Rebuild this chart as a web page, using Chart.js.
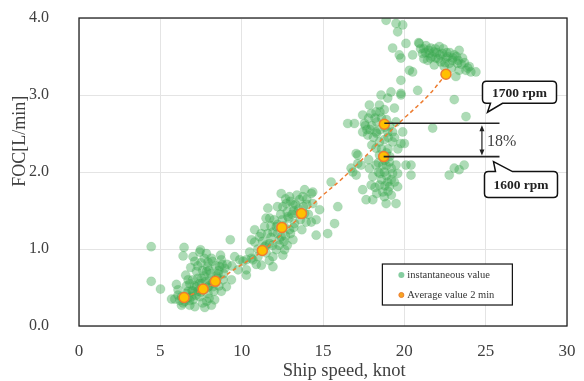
<!DOCTYPE html>
<html>
<head>
<meta charset="utf-8">
<script src="https://cdn.jsdelivr.net/npm/chart.js@4.4.0/dist/chart.umd.min.js"></script>
<style>
  html, body { margin: 0; padding: 0; background: #fff; }
  #wrap { width: 584px; height: 381px; }
</style>
</head>
<body>
<div id="wrap"><canvas id="chart" width="584" height="381"></canvas></div>
<script>
// instantaneous value (speed in knot, FOC in L/min)
const speedInst = [
  4.44, 4.44, 5.01, 5.69, 5.99, 6.46, 6.4, 7.01, 7.47, 9.3, 10.6, 6.87, 6.56, 6.71, 5.89, 6.3, 6.81, 7.73, 8.14, 8.34,
  9.06, 9.37, 9.78, 10.29, 9.57, 10.08, 10.6, 7.42, 7.83, 8.14, 8.75, 8.96, 7.12, 7.22, 7.83, 8.55, 7.93, 8.65, 7.01, 7.42,
  7.93, 8.75, 8.85, 6.09, 6.5, 7.01, 7.12, 6.71, 6.09, 7.53, 8.04, 7.53, 8.24, 7.22, 6.81,
  6.3, 6.6, 6.9, 6.2, 7.3, 7.7, 8.0, 8.3, 8.5, 8.1, 7.6, 7.3, 7.0, 8.6, 8.4, 7.9, 7.5, 8.9, 9.1, 8.3, 7.6, 6.6, 7.8, 8.7, 9.4,
  6.4, 6.8, 7.2, 7.5, 7.9, 8.2, 8.45, 8.0, 7.7, 7.4, 7.1, 6.95, 8.6, 8.8, 8.2, 7.7, 7.3, 8.0, 6.7, 7.85,
  9.88, 10.29, 10.8, 10.8, 10.49, 11.1, 11.41, 11.61, 11.72, 11.72, 11.92, 11.21, 12.13, 12.33, 12.43, 12.53, 12.74, 12.94, 12.84, 12.64,
  13.15, 12.94, 12.13, 13.25, 13.76, 13.87, 14.28, 14.37, 14.79, 14.58, 14.28, 14.58, 15.29, 15.71, 15.91, 15.5, 16.83, 17.14, 13.87, 13.97,
  13.35, 13.15, 13.56, 12.43, 11.92, 11.41, 11.0, 10.69, 10.29, 11.92, 12.53, 14.37,
  11.0, 11.5, 11.8, 12.2, 12.6, 12.9, 13.2, 13.5, 13.6, 13.2, 12.7, 12.3, 11.6, 12.0, 12.4, 13.0, 13.4, 14.0, 14.1, 11.3, 12.8, 11.7, 13.7, 10.9,
  11.5, 11.9, 12.2, 12.5, 12.8, 13.1, 13.3, 13.0, 12.6, 11.8, 12.2, 12.7, 13.8, 14.0, 11.2, 11.5,
  16.73, 17.04, 17.14, 17.34, 16.52, 16.93, 17.44, 17.55, 17.85, 17.75, 17.44, 17.96, 18.26, 18.57, 18.47, 18.77, 19.18, 19.79, 18.98, 19.39,
  19.49, 19.28, 19.9, 18.98, 18.26, 18.47, 18.26, 18.77, 19.28, 19.79, 18.47, 17.81, 17.85, 18.26, 18.67, 19.08, 19.49, 18.77, 19.28, 19.59,
  18.98, 19.39, 18.47, 18.67, 19.08, 18.06, 17.96, 17.44, 17.65, 18.06, 18.77, 18.88, 19.59, 19.49, 20.41, 20.41, 20.0, 20.82, 17.04, 20.1,
  18.0, 18.3, 18.6, 18.9, 19.1, 18.5, 18.1, 18.6, 19.0, 19.1, 18.8, 18.4, 18.9, 19.2, 18.6, 18.2, 17.6, 17.8, 18.0, 19.4, 19.6, 18.3, 19.2, 18.9,
  17.9, 18.2, 18.5, 18.8, 19.0, 18.7, 18.4, 18.9, 19.2, 18.5, 18.8, 19.0, 18.3, 17.7,
  18.88, 19.49, 19.9, 19.59, 19.28, 20.1, 20.92, 19.79, 20.51, 20.31, 20.51, 19.79, 23.07, 23.79, 21.74, 22.76, 23.07, 23.68, 23.37, 19.69,
  20.88, 21.33, 21.12, 21.53, 21.84, 22.15, 22.35, 22.66, 22.96, 23.37, 23.58, 23.27, 23.79, 24.09, 24.4, 23.37, 23.17, 21.94, 21.43, 22.25,
  22.76, 19.79, 21.63, 22.56, 23.07, 23.99, 22.45, 21.84,
  21.0, 21.3, 21.7, 22.0, 22.4, 22.8, 23.2, 23.5, 21.2, 22.1, 22.9, 23.7,
  21.2, 21.5, 21.9, 22.2, 22.6, 23.0, 23.3, 22.5, 21.6, 23.9
]
const focInst = [
  1.03, 0.58, 0.48, 0.35, 0.54, 1.02, 0.91, 0.90, 0.99, 1.12, 1.12, 0.76, 0.66, 0.60, 0.35, 0.27, 0.27, 0.24, 0.27, 0.34,
  0.51, 0.60, 0.73, 0.66, 0.90, 0.84, 0.88, 0.96, 0.94, 0.88, 0.86, 0.75, 0.84, 0.71, 0.71, 0.68, 0.83, 0.77, 0.45, 0.38,
  0.42, 0.45, 0.60, 0.40, 0.32, 0.34, 0.25, 0.45, 0.47, 0.55, 0.60, 0.62, 0.51, 0.51, 0.55,
  0.38, 0.42, 0.38, 0.33, 0.45, 0.48, 0.52, 0.58, 0.62, 0.68, 0.72, 0.62, 0.60, 0.52, 0.78, 0.77, 0.82, 0.68, 0.80, 0.45, 0.30, 0.52, 0.58, 0.92, 0.78,
  0.30, 0.33, 0.40, 0.44, 0.50, 0.56, 0.65, 0.72, 0.65, 0.55, 0.52, 0.46, 0.72, 0.80, 0.84, 0.88, 0.78, 0.36, 0.37, 0.32,
  0.86, 0.73, 1.25, 1.09, 0.96, 1.16, 1.29, 1.53, 1.40, 1.07, 0.90, 0.79, 0.99, 1.12, 1.72, 1.55, 1.59, 1.68, 1.42, 0.99,
  1.12, 1.25, 1.29, 1.33, 1.68, 1.77, 1.72, 1.59, 1.51, 1.38, 1.35, 1.18, 1.20, 1.33, 1.55, 1.87, 2.00, 2.11, 1.46, 1.35,
  1.46, 1.57, 1.64, 1.16, 1.22, 1.03, 0.90, 0.86, 0.86, 0.77, 0.92, 1.74,
  1.00, 0.95, 1.15, 1.20, 1.30, 1.40, 1.50, 1.52, 1.38, 1.28, 1.17, 1.05, 1.20, 1.38, 1.45, 1.62, 1.70, 1.58, 1.45, 1.10, 1.05, 0.85, 1.25, 0.80,
  1.05, 1.05, 1.32, 1.38, 1.48, 1.45, 1.58, 1.20, 1.10, 1.30, 1.55, 1.65, 1.55, 1.65, 1.20, 1.40,
  2.05, 1.96, 2.22, 2.09, 2.63, 2.63, 2.74, 2.63, 2.87, 2.48, 2.52, 2.76, 2.78, 3.00, 2.87, 2.81, 3.04, 3.02, 2.96, 2.83,
  2.65, 2.52, 2.52, 2.52, 2.52, 2.39, 2.31, 2.42, 2.39, 2.37, 2.22, 2.16, 2.05, 2.09, 2.09, 2.13, 2.09, 2.00, 1.98, 1.98,
  1.87, 1.87, 1.83, 1.74, 1.81, 1.94, 1.83, 1.77, 1.64, 1.64, 1.68, 1.59, 1.81, 1.59, 2.09, 1.96, 2.37, 3.06, 2.24, 2.09,
  2.60, 2.65, 2.70, 2.68, 2.60, 2.55, 2.45, 2.30, 2.30, 2.20, 2.15, 2.00, 1.95, 1.90, 1.90, 1.80, 2.60, 2.70, 2.35, 2.45, 2.30, 1.72, 1.70, 2.08,
  2.55, 2.70, 2.78, 2.58, 2.45, 2.20, 2.12, 2.25, 2.05, 1.98, 1.82, 1.75, 2.50, 2.55,
  3.97, 3.93, 3.91, 3.82, 3.61, 3.67, 3.67, 3.48, 3.52, 3.32, 3.30, 3.19, 2.94, 2.72, 2.57, 1.96, 2.05, 2.09, 2.03, 3.52,
  3.68, 3.64, 3.54, 3.54, 3.56, 3.63, 3.54, 3.50, 3.45, 3.58, 3.48, 3.41, 3.32, 3.30, 3.30, 3.32, 3.24, 3.48, 3.45, 3.43,
  3.41, 3.00, 3.61, 3.48, 3.52, 3.37, 3.37, 3.39,
  3.60, 3.55, 3.50, 3.55, 3.60, 3.55, 3.50, 3.40, 3.47, 3.47, 3.35, 3.42,
  3.60, 3.58, 3.60, 3.52, 3.55, 3.48, 3.45, 3.42, 3.48, 3.35
]

// Average value 2 min
const speedAvg = [6.46, 7.63, 8.38, 11.27, 12.47, 13.68, 18.73, 18.77, 22.56]
const focAvg = [0.37, 0.48, 0.58, 0.98, 1.28, 1.46, 2.20, 2.62, 3.27]

// dashed trend line
const trendSpeed = [6.46, 7.6, 8.4, 9.8, 11.27, 12.5, 13.7, 15.0, 16.0, 17.3, 18.7, 20.0, 21.5, 22.56]
const trendFoc = [0.37, 0.47, 0.57, 0.77, 0.97, 1.2, 1.44, 1.7, 1.88, 2.14, 2.44, 2.7, 3.0, 3.27]

const serif = "'Liberation Serif', 'DejaVu Serif', serif"
const textColor = '#404040'

function toPoints(xs, ys) {
  return xs.map((x, i) => ({ x: x, y: ys[i] }))
}

// frame, axis titles, rpm callouts, 18% arrow, legend
const extras = {
  id: 'extras',
  afterDatasetsDraw(chart) {
    const { ctx, chartArea: a, scales: { x, y } } = chart
    ctx.save()

    // frame
    ctx.strokeStyle = '#222'
    ctx.lineWidth = 1.3
    ctx.strokeRect(a.left, a.top, a.right - a.left, a.bottom - a.top)

    // axis titles
    ctx.fillStyle = textColor
    ctx.font = '18.5px ' + serif
    ctx.textAlign = 'center'
    ctx.textBaseline = 'alphabetic'
    ctx.fillText('Ship speed, knot', x.getPixelForValue(16.3), 376)
    ctx.font = '18px ' + serif
    ctx.save()
    ctx.translate(25, y.getPixelForValue(2.4))
    ctx.rotate(-Math.PI / 2)
    ctx.fillText('FOC[L/min]', 0, 0)
    ctx.restore()

    // horizontal lines from 1700 / 1600 rpm points
    const hi = { x: x.getPixelForValue(speedAvg[7]), y: y.getPixelForValue(focAvg[7]) }
    const lo = { x: x.getPixelForValue(speedAvg[6]), y: y.getPixelForValue(focAvg[6]) }
    const endX = x.getPixelForValue(25.85)
    ctx.strokeStyle = '#222'
    ctx.lineWidth = 1.6
    ctx.beginPath()
    ctx.moveTo(hi.x, hi.y - 1); ctx.lineTo(endX, hi.y - 1)
    ctx.moveTo(lo.x, lo.y); ctx.lineTo(endX, lo.y)
    ctx.stroke()

    // double arrow
    const ax = x.getPixelForValue(24.77)
    const t = hi.y + 1, b = lo.y - 1
    ctx.lineWidth = 1.2
    ctx.beginPath()
    ctx.moveTo(ax, t + 5); ctx.lineTo(ax, b - 5)
    ctx.stroke()
    ctx.fillStyle = '#222'
    ctx.beginPath()
    ctx.moveTo(ax, t); ctx.lineTo(ax - 2.5, t + 6); ctx.lineTo(ax + 2.5, t + 6); ctx.closePath()
    ctx.moveTo(ax, b); ctx.lineTo(ax - 2.5, b - 6); ctx.lineTo(ax + 2.5, b - 6); ctx.closePath()
    ctx.fill()

    ctx.fillStyle = textColor
    ctx.font = '16px ' + serif
    ctx.textAlign = 'left'
    ctx.textBaseline = 'middle'
    ctx.fillText('18%', ax + 5, (t + b) / 2 + 1)

    // callout boxes
    function callout(L, T, R, B, tail, text) {
      const r = 4
      ctx.beginPath()
      ctx.moveTo(L + r, T)
      if (tail.side === 'top') {
        ctx.lineTo(tail.x1, T); ctx.lineTo(tail.tx, tail.ty); ctx.lineTo(tail.x2, T)
      }
      ctx.lineTo(R - r, T)
      ctx.quadraticCurveTo(R, T, R, T + r)
      ctx.lineTo(R, B - r)
      ctx.quadraticCurveTo(R, B, R - r, B)
      if (tail.side === 'bottom') {
        ctx.lineTo(tail.x2, B); ctx.lineTo(tail.tx, tail.ty); ctx.lineTo(tail.x1, B)
      }
      ctx.lineTo(L + r, B)
      ctx.quadraticCurveTo(L, B, L, B - r)
      ctx.lineTo(L, T + r)
      ctx.quadraticCurveTo(L, T, L + r, T)
      ctx.closePath()
      ctx.fillStyle = '#fff'
      ctx.fill()
      ctx.strokeStyle = '#111'
      ctx.lineWidth = 1.5
      ctx.stroke()
      ctx.fillStyle = '#222'
      ctx.font = 'bold 13.5px ' + serif
      ctx.textAlign = 'center'
      ctx.textBaseline = 'middle'
      ctx.fillText(text, (L + R) / 2, (T + B) / 2 + 1)
    }
    const bx = endX - 17
    callout(bx, hi.y - 43, bx + 74, hi.y - 21,
      { side: 'bottom', x1: bx + 8, x2: bx + 20, tx: bx + 5, ty: hi.y - 12 }, '1700 rpm')
    callout(bx + 2, lo.y + 15, bx + 75, lo.y + 41,
      { side: 'top', x1: bx + 13, x2: bx + 30, tx: bx + 11, ty: lo.y + 5 }, '1600 rpm')

    // legend
    const lx = x.getPixelForValue(18.65), ly = y.getPixelForValue(0.805)
    const lw = 130, lh = 41
    ctx.fillStyle = '#fff'
    ctx.fillRect(lx, ly, lw, lh)
    ctx.strokeStyle = '#111'
    ctx.lineWidth = 1.2
    ctx.strokeRect(lx, ly, lw, lh)
    ctx.font = '10.5px ' + serif
    ctx.textAlign = 'left'
    ctx.textBaseline = 'middle'
    ctx.fillStyle = 'rgba(120,200,150,0.9)'
    ctx.beginPath(); ctx.arc(lx + 19, ly + 11, 3, 0, Math.PI * 2); ctx.fill()
    ctx.fillStyle = '#f5a623'
    ctx.strokeStyle = '#ed7d31'
    ctx.lineWidth = 1
    ctx.beginPath(); ctx.arc(lx + 19, ly + 31, 2.5, 0, Math.PI * 2); ctx.fill(); ctx.stroke()
    ctx.fillStyle = '#333'
    ctx.fillText('instantaneous value', lx + 25, ly + 11)
    ctx.fillText('Average value 2 min', lx + 25, ly + 31)

    ctx.restore()
  }
}

const chart = new Chart(document.getElementById('chart'), {
  type: 'scatter',
  data: {
    datasets: [
      {
        label: 'Average value 2 min',
        data: toPoints(speedAvg, focAvg),
        pointRadius: 5,
        pointBackgroundColor: '#ffc000',
        pointBorderColor: '#ed7d31',
        pointBorderWidth: 1.5,
        order: 1
      },
      {
        label: 'trend',
        data: toPoints(trendSpeed, trendFoc),
        showLine: true,
        pointRadius: 0,
        borderColor: '#ed7d31',
        borderWidth: 1.5,
        borderDash: [4, 3],
        tension: 0.4,
        order: 2
      },
      {
        label: 'instantaneous value',
        data: toPoints(speedInst, focInst),
        pointRadius: 4.6,
        pointBackgroundColor: 'rgba(60,170,80,0.42)',
        pointBorderColor: 'rgba(60,170,80,0.25)',
        pointBorderWidth: 0.5,
        order: 3
      }
    ]
  },
  options: {
    responsive: false,
    animation: false,
    devicePixelRatio: 1,
    layout: { padding: { top: 18, right: 17, left: 0, bottom: 0 } },
    plugins: {
      legend: { display: false },
      tooltip: { enabled: false }
    },
    scales: {
      x: {
        type: 'linear',
        min: 0,
        max: 30,
        afterFit(s) { s.height = 55; s.paddingLeft = 0; s.paddingRight = 0 },
        ticks: { stepSize: 5, padding: 15, color: textColor, font: { family: serif, size: 17 } },
        grid: { color: '#e4e4e4', drawTicks: false },
        border: { display: false }
      },
      y: {
        min: 0,
        max: 4,
        afterFit(s) { s.width = 79; s.paddingTop = 0; s.paddingBottom = 0 },
        ticks: {
          stepSize: 1,
          padding: 30,
          color: textColor,
          font: { family: serif, size: 16 },
          callback: v => v.toFixed(1)
        },
        grid: { color: '#e4e4e4', drawTicks: false },
        border: { display: false }
      }
    }
  },
  plugins: [extras]
})
</script>
</body>
</html>
